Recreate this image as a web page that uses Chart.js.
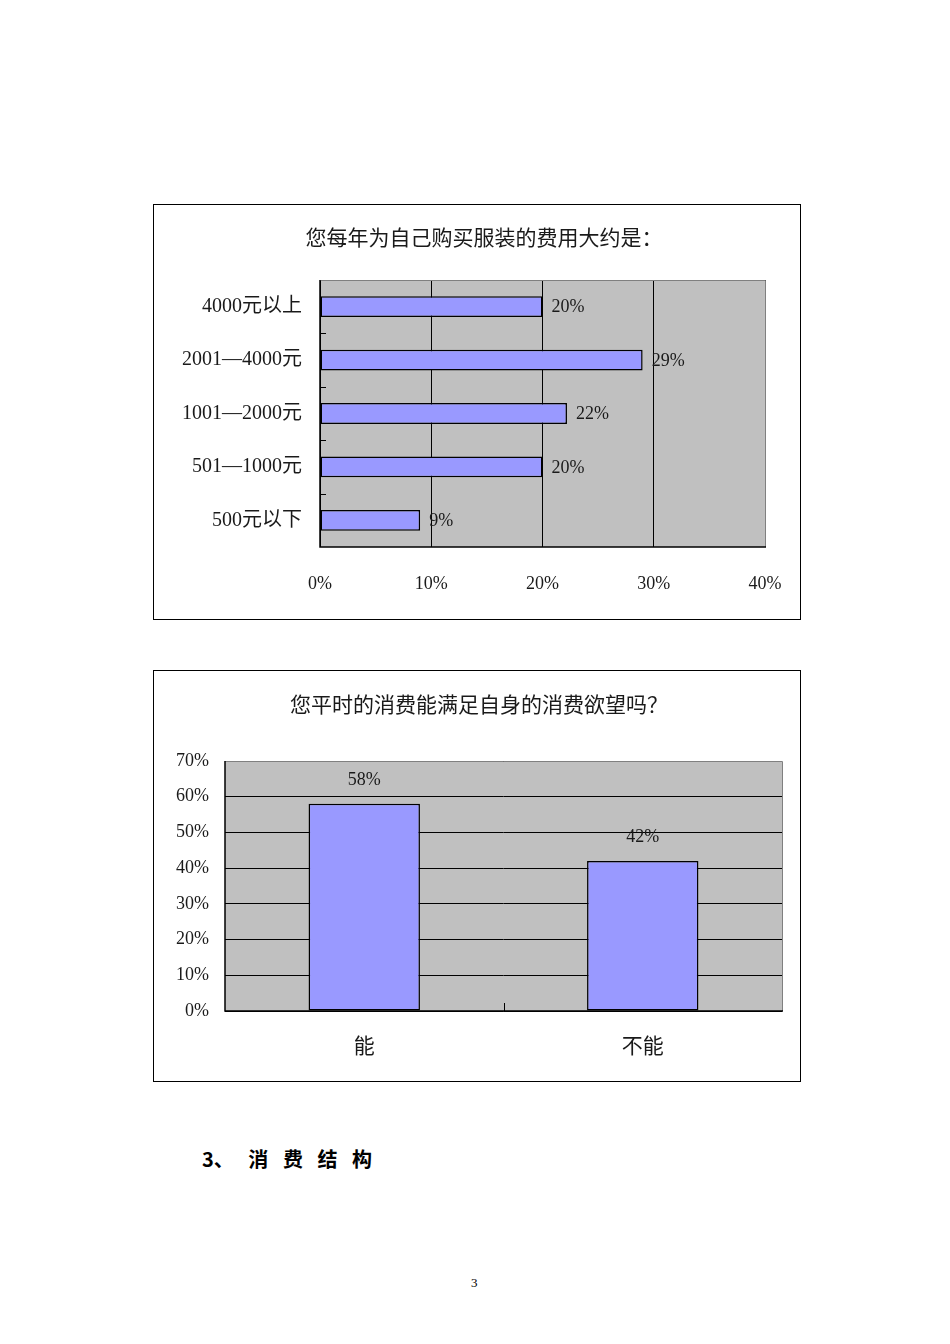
<!DOCTYPE html>
<html><head><meta charset="utf-8">
<script src="https://cdn.jsdelivr.net/npm/chart.js@4.4.1/dist/chart.umd.min.js"></script>
<style>
html,body{margin:0;padding:0;background:#fff;}
body{width:950px;height:1344px;position:relative;overflow:hidden;font-family:"Liberation Serif","Noto Sans CJK SC",serif;}
.box{position:absolute;border:1px solid #000;background:#fff;}
.box canvas{display:block;}
#heading{position:absolute;left:202px;top:1144px;font-family:"Noto Sans CJK SC",sans-serif;font-weight:bold;font-size:20px;color:#000;white-space:pre;word-spacing:10px;}
#page{position:absolute;left:471px;top:1275px;font-size:13px;color:#000;}
</style></head>
<body>
<div class="box" style="left:153px;top:204px;width:646px;height:414px;"><canvas id="c1" width="646" height="414"></canvas></div>
<div class="box" style="left:153px;top:670px;width:646px;height:410px;"><canvas id="c2" width="646" height="410"></canvas></div>
<div id="heading">3、 消 费 结 构</div>
<div id="page">3</div>
<script>
// ---- data ----
const title1 = "您每年为自己购买服装的费用大约是：";
const categories1 = ["4000元以上", "2001—4000元", "1001—2000元", "501—1000元", "500元以下"];
const values1 = [20, 29, 22.2, 20, 9];
const xTicks1 = ["0%", "10%", "20%", "30%", "40%"];

const title2 = "您平时的消费能满足自身的消费欲望吗？";
const categories2 = ["能", "不能"];
const values2 = [58, 42];
const yTicks2 = ["0%", "10%", "20%", "30%", "40%", "50%", "60%", "70%"];

const FONT = '"Liberation Serif","Noto Sans CJK SC",serif';
const BAR = "#9999ff";
const TXT = "#1a1a1a";

function plotBg(opts) {
  return {
    id: "plotBg",
    beforeDraw(chart) {
      const {ctx, chartArea: a} = chart;
      ctx.save();
      ctx.fillStyle = "#c0c0c0";
      ctx.fillRect(a.left, a.top, a.right - a.left, a.bottom - a.top);
      ctx.restore();
    },
    afterDatasetsDraw(chart) {
      const {ctx, chartArea: a} = chart;
      ctx.save();
      // title
      ctx.fillStyle = TXT;
      ctx.font = "21px " + FONT;
      ctx.textAlign = "center"; ctx.textBaseline = "middle";
      ctx.fillText(opts.title, opts.titleX, opts.titleY);
      // plot border
      ctx.lineWidth = 1;
      ctx.strokeStyle = "#808080";
      ctx.beginPath();
      ctx.moveTo(a.left, a.top + 0.5); ctx.lineTo(a.right + 0.5, a.top + 0.5); ctx.lineTo(a.right + 0.5, a.bottom);
      ctx.stroke();
      ctx.strokeStyle = "#000";
      ctx.lineWidth = 1.5;
      ctx.beginPath();
      ctx.moveTo(a.left, a.top); ctx.lineTo(a.left, a.bottom); ctx.lineTo(a.right + 1, a.bottom);
      ctx.stroke();
      // category boundary tick marks
      ctx.lineWidth = 1;
      ctx.strokeStyle = "#000";
      const meta = chart.getDatasetMeta(0);
      const els = meta.data;
      ctx.beginPath();
      for (let i = 1; i < els.length; i++) {
        if (opts.horizontal) {
          const y = Math.round((els[i - 1].y + els[i].y) / 2) + 0.5;
          ctx.moveTo(a.left, y); ctx.lineTo(a.left + 6, y);
        } else {
          const x = Math.round((els[i - 1].x + els[i].x) / 2) + 0.5;
          ctx.moveTo(x, a.bottom); ctx.lineTo(x, a.bottom - 8);
        }
      }
      ctx.stroke();
      // data labels
      ctx.fillStyle = TXT;
      ctx.font = "18px " + FONT;
      els.forEach((el, i) => {
        const v = chart.data.datasets[0].data[i];
        const t = Math.round(v) + "%";
        if (opts.horizontal) {
          ctx.textAlign = "left"; ctx.textBaseline = "middle";
          ctx.fillText(t, el.x + 9, el.y + 1);
        } else {
          ctx.textAlign = "center"; ctx.textBaseline = "middle";
          ctx.fillText(t, el.x, el.y - 24);
        }
      });
      ctx.restore();
    }
  };
}

new Chart(document.getElementById("c1"), {
  type: "bar",
  data: {
    labels: categories1,
    datasets: [{
      data: values1,
      backgroundColor: BAR,
      borderColor: "#000",
      borderWidth: 1.5,
      borderSkipped: false,
      barPercentage: 0.39,
      categoryPercentage: 1
    }]
  },
  options: {
    indexAxis: "y",
    responsive: false,
    animation: false,
    devicePixelRatio: 1,
    layout: {padding: {left: 0, right: 35, top: 75, bottom: 0}},
    plugins: {
      legend: {display: false},
      tooltip: {enabled: false},
      title: {display: false}
    },
    scales: {
      x: {
        min: 0, max: 40,
        afterFit(s) { s.height = 72; s.paddingRight = 0; s.paddingLeft = 0; },
        border: {display: false},
        grid: {color: "#000", lineWidth: 1, drawTicks: false},
        ticks: {stepSize: 10, padding: 26, color: TXT, font: {family: FONT, size: 18},
          callback: (v, i) => xTicks1[i]}
      },
      y: {
        afterFit(s) { s.width = 166; },
        border: {display: false},
        grid: {display: false, drawTicks: false},
        ticks: {padding: 18, color: TXT, font: {family: FONT, size: 20}}
      }
    }
  },
  plugins: [plotBg({horizontal: true, title: title1, titleX: 330, titleY: 34})]
});

new Chart(document.getElementById("c2"), {
  type: "bar",
  data: {
    labels: categories2,
    datasets: [{
      data: values2,
      backgroundColor: BAR,
      borderColor: "#000",
      borderWidth: 1.5,
      borderSkipped: false,
      barPercentage: 0.40,
      categoryPercentage: 1
    }]
  },
  options: {
    responsive: false,
    animation: false,
    devicePixelRatio: 1,
    layout: {padding: {left: 0, right: 18, top: 90, bottom: 0}},
    plugins: {
      legend: {display: false},
      tooltip: {enabled: false},
      title: {display: false}
    },
    scales: {
      x: {
        afterFit(s) { s.height = 70; },
        border: {display: false},
        grid: {display: false, drawTicks: false},
        ticks: {padding: 24, color: TXT, font: {family: FONT, size: 21}}
      },
      y: {
        min: 0, max: 70,
        afterFit(s) { s.width = 71; },
        border: {display: false},
        grid: {color: "#000", lineWidth: 1, drawTicks: false},
        ticks: {stepSize: 10, padding: 16, color: TXT, font: {family: FONT, size: 18},
          callback: (v, i) => yTicks2[i]}
      }
    }
  },
  plugins: [plotBg({horizontal: false, title: title2, titleX: 325, titleY: 35})]
});
</script>
</body></html>
